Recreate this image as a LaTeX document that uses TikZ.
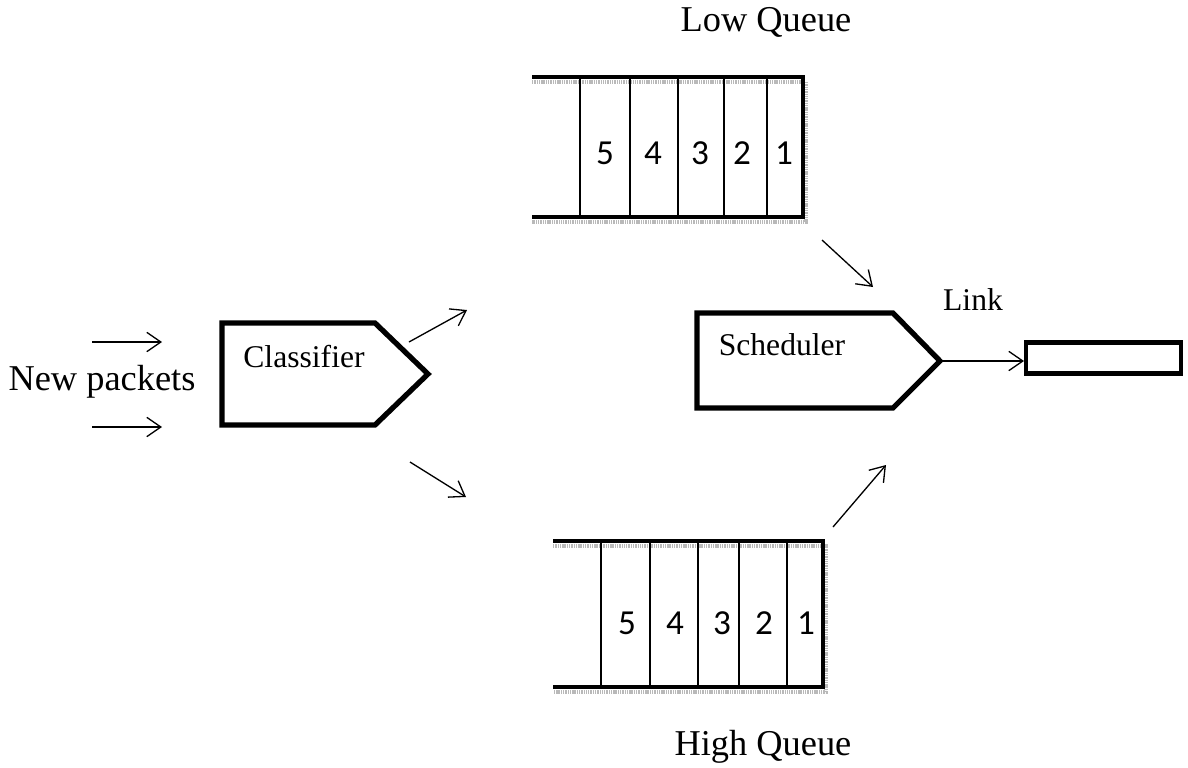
\documentclass[tikz,border=0pt]{standalone}
\usepackage{fontspec}
\setmainfont{Liberation Serif}
\newfontfamily\numfont{Carlito}
\usetikzlibrary{arrows.meta}

\tikzset{
    bigtext/.style={inner sep=0pt, font=\fontsize{20.7}{24}\selectfont},
    smalltext/.style={inner sep=0pt, font=\fontsize{18}{22}\selectfont},
    num/.style={inner sep=0pt, font=\numfont\fontsize{20}{24}\selectfont},
    outline/.style={line width=3pt},
    qline/.style={line width=2.5pt},
    qshade/.style={line width=2.5pt, gray!55, dash pattern=on 0.8pt off 0.5pt},
    divider/.style={line width=0.6pt},
    flow/.style={line width=0.75pt, -{Straight Barb[length=8pt,width=11pt]}}
}

\begin{document}
\begin{tikzpicture}[x=0.02cm, y=-0.02cm]
    \useasboundingbox (0,0) rectangle (1188,768);

    % incoming packets
    \node[bigtext] (newpk) at (102,382) {New packets};
    \coordinate (in1a) at (92,342);  \coordinate (in1b) at (162,342);
    \coordinate (in2a) at (92,427);  \coordinate (in2b) at (162,427);
    \draw[flow] (in1a) -- (in1b);
    \draw[flow] (in2a) -- (in2b);

    % classifier
    \draw[outline] (222,323) -- (375,323) -- (428,374) -- (375,425) -- (222,425) -- cycle;
    \node[smalltext] (classifier) at (304,357) {Classifier};
    \coordinate (cup1) at (409,342);  \coordinate (cup2) at (467,310);
    \coordinate (cdn1) at (410,462);  \coordinate (cdn2) at (466,497);
    \draw[flow] (cup1) -- (cup2);
    \draw[flow] (cdn1) -- (cdn2);

    % low queue
    \node[bigtext] (lowq) at (766,22) {Low Queue};
    \draw[qshade] (532,82) -- (806,82) -- (806,222) -- (532,222);
    \draw[qline] (532,77) -- (803,77) -- (803,217) -- (532,217);
    \foreach \x in {580,630,678,724,767}
        \draw[divider] (\x,79) -- (\x,215);
    \foreach \x/\n in {605/5,653/4,700/3,742/2,784/1}
        \node[num] (low\n) at (\x,153) {\n};

    % high queue
    \node[bigtext] (highq) at (763,747) {High Queue};
    \draw[qshade] (553,546) -- (826,546) -- (826,692) -- (553,692);
    \draw[qline] (553,541) -- (823,541) -- (823,687) -- (553,687);
    \foreach \x in {601,650,698,739,787}
        \draw[divider] (\x,543) -- (\x,685);
    \foreach \x/\n in {627/5,675/4,722/3,764/2,806/1}
        \node[num] (high\n) at (\x,623) {\n};

    % queues into the scheduler
    \coordinate (lo1) at (822,240);  \coordinate (lo2) at (873,287);
    \coordinate (hi1) at (833,527);  \coordinate (hi2) at (886,465);
    \draw[flow] (lo1) -- (lo2);
    \draw[flow] (hi1) -- (hi2);

    % scheduler and link
    \draw[outline] (697,313) -- (893,313) -- (940,361) -- (893,408) -- (697,408) -- cycle;
    \node[smalltext] (scheduler) at (782,345) {Scheduler};
    \coordinate (schout) at (940,361);
    \node[draw, line width=2.3pt, inner sep=0pt,
          minimum width=3.1cm, minimum height=0.62cm, anchor=west] (link) at (1024,358) {};
    \node[smalltext] (linklbl) at (973,300) {Link};
    \draw[flow] (schout) -- (schout -| link.west);
\end{tikzpicture}
\end{document}
